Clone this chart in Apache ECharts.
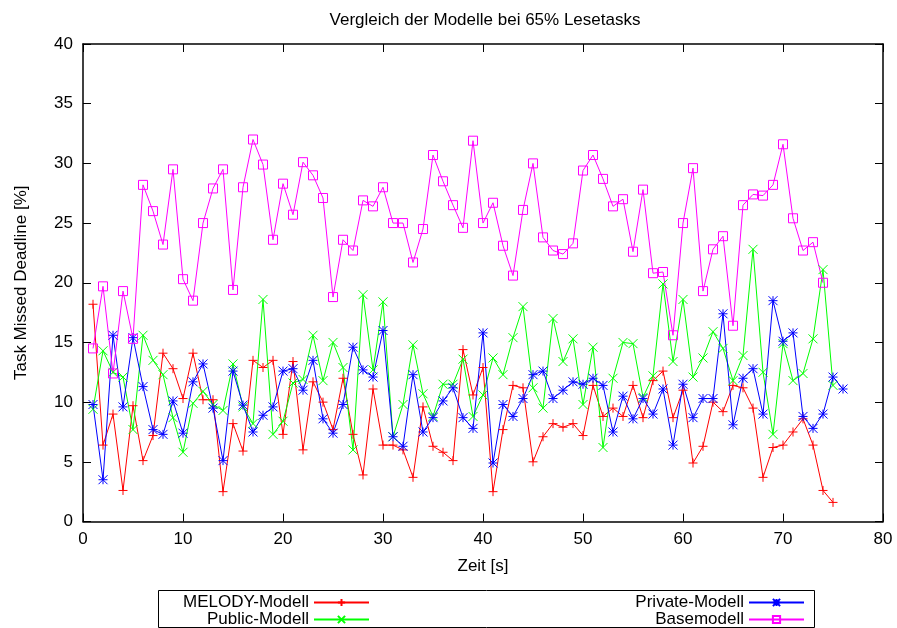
<!DOCTYPE html>
<html><head><meta charset="utf-8">
<script src="https://cdn.jsdelivr.net/npm/echarts@6/dist/echarts.min.js"></script>
<style>html,body{margin:0;padding:0;background:#fff}#c{width:897px;height:628px}</style>
</head><body><div id="c"></div>
<script>
const titleText = 'Vergleich der Modelle bei 65% Lesetasks';
const xName = 'Zeit [s]';
const yName = 'Task Missed Deadline [%]';
const seriesNames = ['MELODY-Modell', 'Public-Modell', 'Private-Modell', 'Basemodell'];

const melody = [18.2, 6.4, 9.0, 2.6, 9.7, 5.1, 7.2, 14.1, 12.8, 10.3,
  14.1, 10.2, 10.2, 2.5, 8.2, 5.9, 13.5, 12.9, 13.5, 7.3,
  13.4, 6.0, 11.7, 10.0, 7.7, 12.0, 7.3, 3.9, 11.1, 6.4,
  6.4, 6.0, 3.7, 9.6, 6.3, 5.8, 5.1, 14.4, 10.6, 12.9,
  2.5, 7.7, 11.4, 11.2, 5.0, 7.1, 8.2, 7.9, 8.2, 7.2,
  11.4, 8.8, 9.5, 8.8, 11.4, 8.7, 11.8, 12.6, 8.7, 11.0,
  4.9, 6.3, 10.0, 9.2, 11.4, 11.2, 9.5, 3.7, 6.2, 6.4,
  7.5, 8.6, 6.4, 2.6, 1.6];

const publicM = [9.4, 14.3, 12.5, 12.1, 7.7, 15.6, 13.5, 12.3, 8.7, 5.8,
  9.9, 10.9, 9.8, 9.3, 13.2, 9.6, 8.2, 18.6, 7.3, 8.4,
  11.6, 11.9, 15.6, 11.8, 15.0, 12.9, 6.0, 19.0, 12.7, 18.4,
  7.1, 9.8, 14.8, 10.7, 8.8, 11.5, 11.5, 13.6, 8.8, 10.6,
  13.7, 12.3, 15.4, 18.0, 11.2, 9.5, 17.0, 13.4, 15.3, 9.8,
  14.6, 6.2, 12.0, 15.0, 14.9, 10.4, 12.2, 19.9, 13.4, 18.6,
  12.1, 13.7, 15.9, 14.5, 11.8, 13.9, 22.8, 12.5, 7.3, 14.9,
  11.8, 12.4, 15.3, 21.1, 11.4];

const privateM = [9.8, 3.5, 15.6, 9.6, 15.4, 11.3, 7.7, 7.3, 10.1, 7.4,
  11.7, 13.2, 9.5, 5.1, 12.6, 9.75, 7.5, 8.9, 9.6, 12.6,
  12.8, 11.0, 13.5, 8.6, 7.4, 9.8, 14.6, 12.7, 12.1, 16.0,
  7.1, 6.3, 12.3, 7.5, 8.7, 10.1, 11.2, 8.7, 7.8, 15.8,
  4.9, 9.8, 8.8, 10.3, 12.3, 12.6, 10.3, 11.0, 11.7, 11.5,
  12.0, 11.4, 7.5, 10.5, 8.6, 10.3, 9.0, 11.1, 6.4, 11.5,
  8.7, 10.3, 10.3, 17.4, 8.1, 12.0, 12.8, 9.0, 18.5, 15.1,
  15.8, 8.8, 7.8, 9.0, 12.1, 11.1];

const base = [14.5, 19.7, 12.4, 19.3, 15.3, 28.2, 26.0, 23.2, 29.5, 20.3,
  18.5, 25.0, 27.9, 29.5, 19.4, 28.0, 32.0, 29.9, 23.6, 28.3,
  25.7, 30.1, 29.0, 27.1, 18.8, 23.6, 22.7, 26.9, 26.4, 28.0,
  25.0, 25.0, 21.7, 24.5, 30.7, 28.5, 26.5, 24.6, 31.9, 25.0,
  26.7, 23.1, 20.6, 26.1, 30.0, 23.8, 22.7, 22.4, 23.3, 29.4,
  30.7, 28.7, 26.4, 27.0, 22.6, 27.8, 20.8, 20.9, 15.6, 25.0,
  29.6, 19.3, 22.8, 23.9, 16.4, 26.5, 27.4, 27.3, 28.2, 31.6,
  25.4, 22.7, 23.4, 20.0];

const FONT = 'Liberation Sans, Arial, Helvetica, sans-serif';
const toPairs = arr => arr.map((v, i) => [i + 1, v]);

const SYM = {
  plus: 'path://M0,5L10,5M5,0L5,10',
  cross: 'path://M0,0L10,10M10,0L0,10',
  star: 'path://M0,5L10,5M5,0L5,10M0,0L10,10M10,0L0,10',
  square: 'path://M0,0L10,0L10,10L0,10Z'
};

function mk(name, data, color, symbol, size) {
  return {
    name, type: 'line', data: toPairs(data),
    symbol, symbolSize: size, showSymbol: true, showAllSymbol: true,
    lineStyle: { color, width: 1 },
    itemStyle: { color: 'rgba(0,0,0,0)', borderColor: color, borderWidth: 1 },
    emphasis: { disabled: true },
    animation: false
  };
}

const axisCommon = {
  axisLine: { show: true, onZero: false, lineStyle: { color: '#000', width: 1.5 } },
  axisTick: { show: true, inside: true, length: 8, lineStyle: { color: '#000', width: 1 } },
  splitLine: { show: false }
};

const chart = echarts.init(document.getElementById('c'), null, { renderer: 'canvas' });
chart.setOption({
  animation: false,
  backgroundColor: '#fff',
  textStyle: { fontFamily: FONT },
  title: {
    text: titleText, left: 480, top: 7, textAlign: 'center',
    textStyle: { fontFamily: FONT, fontSize: 17, fontWeight: 'normal', color: '#000' }
  },
  grid: { left: 83, right: 14, top: 44, bottom: 106.5, containLabel: false },
  xAxis: [
    Object.assign({}, axisCommon, {
      type: 'value', min: 0, max: 80, interval: 10, position: 'bottom',
      name: xName, nameLocation: 'middle', nameGap: 36,
      nameTextStyle: { fontFamily: FONT, fontSize: 17, color: '#000' },
      axisLabel: { fontFamily: FONT, fontSize: 17, color: '#000', margin: 9 }
    }),
    Object.assign({}, axisCommon, {
      type: 'value', min: 0, max: 80, interval: 10, position: 'top',
      axisLabel: { show: false }
    })
  ],
  yAxis: [
    Object.assign({}, axisCommon, {
      type: 'value', min: 0, max: 40, interval: 5, position: 'left',
      name: yName, nameLocation: 'middle', nameGap: 53,
      nameTextStyle: { fontFamily: FONT, fontSize: 17, color: '#000' },
      axisLabel: { fontFamily: FONT, fontSize: 17, color: '#000', margin: 10 }
    }),
    Object.assign({}, axisCommon, {
      type: 'value', min: 0, max: 40, interval: 5, position: 'right',
      axisLabel: { show: false }
    })
  ],
  legend: [
    { data: [seriesNames[0]], right: 527, top: 594 },
    { data: [seriesNames[1]], right: 527, top: 611 },
    { data: [seriesNames[2]], right: 92, top: 594 },
    { data: [seriesNames[3]], right: 92, top: 611 }
  ].map(l => Object.assign(l, {
    align: 'right', orient: 'horizontal', padding: 0, itemWidth: 55, itemHeight: 9,
    selectedMode: false,
    textStyle: { fontFamily: FONT, fontSize: 17, color: '#000' }
  })),
  graphic: [{
    type: 'rect', silent: true,
    shape: { x: 158.5, y: 590.5, width: 656, height: 37 },
    style: { fill: 'none', stroke: '#000', lineWidth: 1 }
  }],
  series: [
    mk(seriesNames[0], melody, '#ff0000', SYM.plus, 9),
    mk(seriesNames[1], publicM, '#00ff00', SYM.cross, 9),
    mk(seriesNames[2], privateM, '#0000ff', SYM.star, 9),
    mk(seriesNames[3], base, '#ff00ff', SYM.square, 9)
  ]
});
</script>
</body></html>
